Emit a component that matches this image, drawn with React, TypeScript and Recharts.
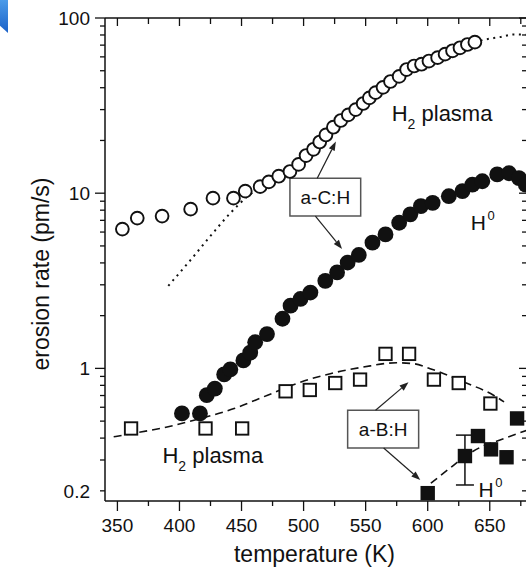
import React from "react";
import {
  ComposedChart,
  Scatter,
  Line,
  XAxis,
  YAxis,
  ErrorBar,
  Label,
  ReferenceArea,
  ReferenceLine,
  ReferenceDot,
} from "recharts";

const FONT = '"Liberation Sans", Arial, Helvetica, sans-serif';
const INK = "#111";

// temperature axis (K)
const xMajor = [350, 400, 450, 500, 550, 600, 650];
const xMinor = [375, 425, 475, 525, 575, 625, 675];
const xTicks = [...xMajor, ...xMinor].sort((a, b) => a - b);

// erosion rate axis (pm/s), log
const yLabelled = [0.2, 1, 10, 100];
const yMajor = [1, 10, 100];
const yTicks = [
  0.2, 0.3, 0.4, 0.5, 0.6, 0.7, 0.8, 0.9, 1, 2, 3, 4, 5, 6, 7, 8, 9, 10, 20, 30, 40, 50, 60, 70, 80, 90, 100,
];

// a-C:H, H2 plasma (open circles)
const acH2 = [
  { t: 354, v: 6.24 }, { t: 366, v: 7.21 }, { t: 386, v: 7.4 }, { t: 409, v: 8.11 },
  { t: 427, v: 9.37 }, { t: 443.5, v: 9.37 }, { t: 453, v: 10.27 }, { t: 465, v: 10.9 },
  { t: 472, v: 11.6 }, { t: 480, v: 12.5 }, { t: 489, v: 13.3 }, { t: 496, v: 14.6 },
  { t: 502, v: 16.4 }, { t: 508, v: 17.8 }, { t: 513, v: 19.6 }, { t: 518, v: 21.5 },
  { t: 524, v: 23.8 }, { t: 530, v: 26.0 }, { t: 536, v: 28.0 }, { t: 542, v: 30.0 },
  { t: 548, v: 32.5 }, { t: 553, v: 35.0 }, { t: 558, v: 37.5 }, { t: 564, v: 40.2 },
  { t: 570, v: 43.4 }, { t: 577, v: 46.4 }, { t: 583, v: 50.8 }, { t: 589, v: 53.2 },
  { t: 595, v: 54.5 }, { t: 601, v: 56.8 }, { t: 608, v: 59.4 }, { t: 614, v: 62.2 },
  { t: 620, v: 65.0 }, { t: 626, v: 67.6 }, { t: 632, v: 70.6 }, { t: 638, v: 72.8 },
];

// a-C:H, H0 (filled circles)
const acH0 = [
  { t: 402, v: 0.553 }, { t: 416.5, v: 0.553 }, { t: 422, v: 0.703 }, { t: 428.5, v: 0.767 },
  { t: 436, v: 0.924 }, { t: 441, v: 0.987 }, { t: 451.5, v: 1.11 }, { t: 457, v: 1.23 },
  { t: 461, v: 1.41 }, { t: 470.5, v: 1.57 }, { t: 483, v: 1.92 }, { t: 489.5, v: 2.28 },
  { t: 497.5, v: 2.49 }, { t: 505.5, v: 2.71 }, { t: 517.5, v: 3.16 }, { t: 527, v: 3.53 },
  { t: 535.5, v: 4.02 }, { t: 544.5, v: 4.44 }, { t: 555.5, v: 5.22 }, { t: 566, v: 5.82 },
  { t: 577, v: 6.78 }, { t: 586, v: 7.57 }, { t: 594.5, v: 8.44 }, { t: 604, v: 8.81 },
  { t: 617, v: 9.61 }, { t: 628, v: 10.27 }, { t: 636, v: 11.2 }, { t: 644, v: 11.7 },
  { t: 656, v: 12.8 }, { t: 665.5, v: 13.0 }, { t: 673.5, v: 12.2 }, { t: 679, v: 11.2 },
];

// a-C:H model curve (dotted)
const acFit = [
  { t: 391, v: 2.96 }, { t: 409, v: 4.16 }, { t: 425, v: 5.7 }, { t: 441, v: 7.7 },
  { t: 455, v: 9.6 }, { t: 467, v: 11.0 }, { t: 480, v: 12.5 }, { t: 500, v: 15.6 },
  { t: 520, v: 22.2 }, { t: 540, v: 29.2 }, { t: 560, v: 38.5 }, { t: 580, v: 48.5 },
  { t: 600, v: 55.8 }, { t: 620, v: 65.0 }, { t: 638, v: 72.8 }, { t: 645, v: 75.0 },
  { t: 659, v: 78.0 }, { t: 669, v: 80.6 }, { t: 679, v: 80.2 },
];

// a-B:H, H2 plasma (open squares) and its trend (dashed)
const abH2 = [
  { t: 361, v: 0.454 }, { t: 421, v: 0.454 }, { t: 450.5, v: 0.454 }, { t: 485.5, v: 0.74 },
  { t: 505, v: 0.753 }, { t: 525.5, v: 0.825 }, { t: 545.5, v: 0.863 }, { t: 566, v: 1.21 },
  { t: 585, v: 1.21 }, { t: 605, v: 0.863 }, { t: 625, v: 0.825 }, { t: 650.5, v: 0.63 },
];
const abH2Fit = [
  { t: 347, v: 0.407 }, { t: 363, v: 0.426 }, { t: 390, v: 0.463 }, { t: 417, v: 0.518 },
  { t: 444, v: 0.59 }, { t: 471, v: 0.703 }, { t: 498, v: 0.836 }, { t: 521.5, v: 0.933 },
  { t: 548, v: 1.017 }, { t: 575, v: 1.077 }, { t: 589, v: 1.063 }, { t: 602, v: 0.996 },
  { t: 629, v: 0.836 }, { t: 653, v: 0.703 }, { t: 661.5, v: 0.644 },
];

// a-B:H, H0 (filled squares), one point with error bar, trend (dashed)
const abH0 = [
  { t: 600, v: 0.194 }, { t: 640.5, v: 0.411 }, { t: 651, v: 0.345 }, { t: 663.5, v: 0.311 },
  { t: 672, v: 0.518 },
];
const abH0Err = [{ t: 630, v: 0.316, err: 0.1 }];
const abH0Fit = [
  { t: 602.5, v: 0.221 }, { t: 616, v: 0.263 }, { t: 632, v: 0.321 }, { t: 643, v: 0.356 },
  { t: 656, v: 0.385 }, { t: 680, v: 0.444 },
];

const axisLine = { stroke: INK, strokeWidth: 1.5 };

const BottomTick = (p: any) => {
  const major = xMajor.includes(p.payload.value);
  return (
    <g>
      <line x1={p.x} x2={p.x} y1={p.y} y2={p.y + (major ? 10 : 5)} stroke={INK} strokeWidth={1.3} />
      {major && (
        <text x={p.x} y={p.y + 31} textAnchor="middle" fontSize={19} fontFamily={FONT} fill={INK}>
          {p.payload.value}
        </text>
      )}
    </g>
  );
};

const TopTick = (p: any) => {
  const major = xMajor.includes(p.payload.value);
  return <line x1={p.x} x2={p.x} y1={p.y} y2={p.y + (major ? 8 : 6)} stroke={INK} strokeWidth={1.3} />;
};

const LeftTick = (p: any) => {
  const val = p.payload.value;
  const major = yMajor.includes(val);
  return (
    <g>
      <line x1={p.x - (major ? 10 : 5)} x2={p.x} y1={p.y} y2={p.y} stroke={INK} strokeWidth={1.3} />
      {yLabelled.includes(val) && (
        <text x={p.x - 15} y={p.y + 6.7} textAnchor="end" fontSize={19} fontFamily={FONT} fill={INK}>
          {val}
        </text>
      )}
    </g>
  );
};

const RightTick = (p: any) => {
  const major = yMajor.includes(p.payload.value);
  return <line x1={p.x - (major ? 8 : 5)} x2={p.x} y1={p.y} y2={p.y} stroke={INK} strokeWidth={1.3} />;
};

const XTitle = ({ viewBox }: any) => (
  <text
    x={viewBox.x + viewBox.width / 2 - 1.5}
    y={viewBox.y + 61}
    textAnchor="middle"
    fontSize={23}
    fontFamily={FONT}
    fill={INK}
  >
    temperature (K)
  </text>
);

const YTitle = ({ viewBox }: any) => {
  const x = viewBox.x + 49;
  const y = viewBox.y + viewBox.height / 2 + 14.5;
  return (
    <text x={x} y={y} transform={`rotate(-90, ${x}, ${y})`} textAnchor="middle" fontSize={23} fontFamily={FONT} fill={INK}>
      erosion rate (pm/s)
    </text>
  );
};

const OpenCircle = (p: any) => <circle cx={p.cx} cy={p.cy} r={6.4} fill="#fff" stroke={INK} strokeWidth={1.9} />;
const FilledCircle = (p: any) => <circle cx={p.cx} cy={p.cy} r={7.9} fill={INK} />;
const OpenSquare = (p: any) => (
  <rect x={p.cx - 6.2} y={p.cy - 6.2} width={12.4} height={12.4} fill="#fff" stroke={INK} strokeWidth={1.9} />
);
const FilledSquare = (p: any) => <rect x={p.cx - 7.2} y={p.cy - 7.2} width={14.4} height={14.4} fill={INK} />;

const Arrow = (p: any) => {
  const { x1, y1, x2, y2 } = p;
  const a = Math.atan2(y2 - y1, x2 - x1);
  const len = 9;
  const half = 3.3;
  const bx = x2 - len * Math.cos(a);
  const by = y2 - len * Math.sin(a);
  const s = Math.sin(a);
  const c = Math.cos(a);
  const pts = `${x2},${y2} ${bx - half * s},${by + half * c} ${bx + half * s},${by - half * c}`;
  return (
    <g>
      <line x1={x1} y1={y1} x2={bx} y2={by} stroke="#222" strokeWidth={1.2} />
      <polygon points={pts} fill="#222" />
    </g>
  );
};

const plasmaText = (p: any) => (
  <text x={p.viewBox.x} y={p.viewBox.y} fontSize={22} fontFamily={FONT} fill={INK}>
    H<tspan fontSize={14} dy={8}>2</tspan>
    <tspan dy={-8}> plasma</tspan>
  </text>
);

const hZeroText = (p: any) => (
  <text x={p.viewBox.x} y={p.viewBox.y} fontSize={21} fontFamily={FONT} fill={INK}>
    H<tspan fontSize={13} dx={1.5} dy={-10}>0</tspan>
  </text>
);

const boxStyle = { fill: "#fff", fillOpacity: 1, stroke: "#555", strokeWidth: 1.5, ifOverflow: "visible" as const };

export default function App() {
  return (
    <div style={{ position: "absolute", left: 0, top: 0, width: 526, height: 569, overflow: "hidden", background: "#fff" }}>
      <div
        style={{
          position: "absolute",
          left: 0,
          top: 0,
          width: 8,
          height: 33,
          background: "linear-gradient(#4b9be9, #1c62c8)",
          clipPath: "polygon(0 0, 100% 0, 100% 100%, 0 78%)",
        }}
      />
      <ComposedChart width={540} height={569} margin={{ top: 17, right: 12, bottom: 8, left: 0 }}>
        <XAxis
          dataKey="t"
          type="number"
          domain={[340, 680]}
          allowDataOverflow
          ticks={xTicks}
          interval={0}
          tickSize={0}
          tickMargin={0}
          tickLine={false}
          tick={BottomTick}
          axisLine={axisLine}
          height={60}
        >
          <Label content={XTitle} />
        </XAxis>
        <XAxis
          xAxisId="top"
          orientation="top"
          dataKey="t"
          type="number"
          domain={[340, 680]}
          allowDataOverflow
          ticks={xTicks}
          interval={0}
          tickSize={0}
          tickMargin={0}
          tickLine={false}
          tick={TopTick}
          axisLine={axisLine}
          height={1}
        />
        <YAxis
          dataKey="v"
          type="number"
          scale="log"
          domain={[0.175, 100]}
          allowDataOverflow
          ticks={yTicks}
          interval={0}
          tickSize={0}
          tickMargin={0}
          tickLine={false}
          tick={LeftTick}
          axisLine={axisLine}
          width={105}
        >
          <Label content={YTitle} />
        </YAxis>
        <YAxis
          yAxisId="right"
          orientation="right"
          dataKey="v"
          type="number"
          scale="log"
          domain={[0.175, 100]}
          allowDataOverflow
          ticks={yTicks}
          interval={0}
          tickSize={0}
          tickMargin={0}
          tickLine={false}
          tick={RightTick}
          axisLine={axisLine}
          width={1}
        />

        <Line data={abH2Fit} dataKey="v" type="monotone" stroke={INK} strokeWidth={1.6} strokeDasharray="8 5" dot={false} isAnimationActive={false} />
        <Line data={abH0Fit} dataKey="v" type="monotone" stroke={INK} strokeWidth={1.6} strokeDasharray="8 5" dot={false} isAnimationActive={false} />

        <Scatter data={acH2} dataKey="v" shape={OpenCircle} isAnimationActive={false} />
        <Scatter data={acH0} dataKey="v" shape={FilledCircle} isAnimationActive={false} />
        <Scatter data={abH2} dataKey="v" shape={OpenSquare} isAnimationActive={false} />
        <Scatter data={abH0Err} dataKey="v" shape={FilledSquare} isAnimationActive={false}>
          <ErrorBar dataKey="err" direction="y" width={9} stroke={INK} strokeWidth={1.5} />
        </Scatter>
        <Scatter data={abH0} dataKey="v" shape={FilledSquare} isAnimationActive={false} />

        <Line data={acFit} dataKey="v" type="monotone" stroke={INK} strokeWidth={2} strokeDasharray="2 4.5" dot={false} isAnimationActive={false} />

        <ReferenceLine segment={[{ x: 511, y: 12.17 }, { x: 526, y: 19.7 }]} shape={Arrow} ifOverflow="visible" />
        <ReferenceLine segment={[{ x: 509.5, y: 7.4 }, { x: 531, y: 4.81 }]} shape={Arrow} ifOverflow="visible" />
        <ReferenceLine segment={[{ x: 558, y: 0.577 }, { x: 584.5, y: 0.833 }]} shape={Arrow} ifOverflow="visible" />
        <ReferenceLine segment={[{ x: 564.5, y: 0.351 }, { x: 594, y: 0.231 }]} shape={Arrow} ifOverflow="visible" />

        <ReferenceArea x1={489} x2={546} y1={7.4} y2={12.17} {...boxStyle}>
          <Label value="a-C:H" position="center" fontSize={19} fontFamily={FONT} fill={INK} />
        </ReferenceArea>
        <ReferenceArea x1={535.5} x2={592.7} y1={0.351} y2={0.577} {...boxStyle}>
          <Label value="a-B:H" position="center" fontSize={19} fontFamily={FONT} fill={INK} />
        </ReferenceArea>

        <ReferenceDot x={571} y={25.7} r={0} fill="none" stroke="none" label={plasmaText} />
        <ReferenceDot x={386.3} y={0.289} r={0} fill="none" stroke="none" label={plasmaText} />
        <ReferenceDot x={634.7} y={6.16} r={0} fill="none" stroke="none" label={hZeroText} />
        <ReferenceDot x={641} y={0.185} r={0} fill="none" stroke="none" label={hZeroText} />
      </ComposedChart>
    </div>
  );
}
